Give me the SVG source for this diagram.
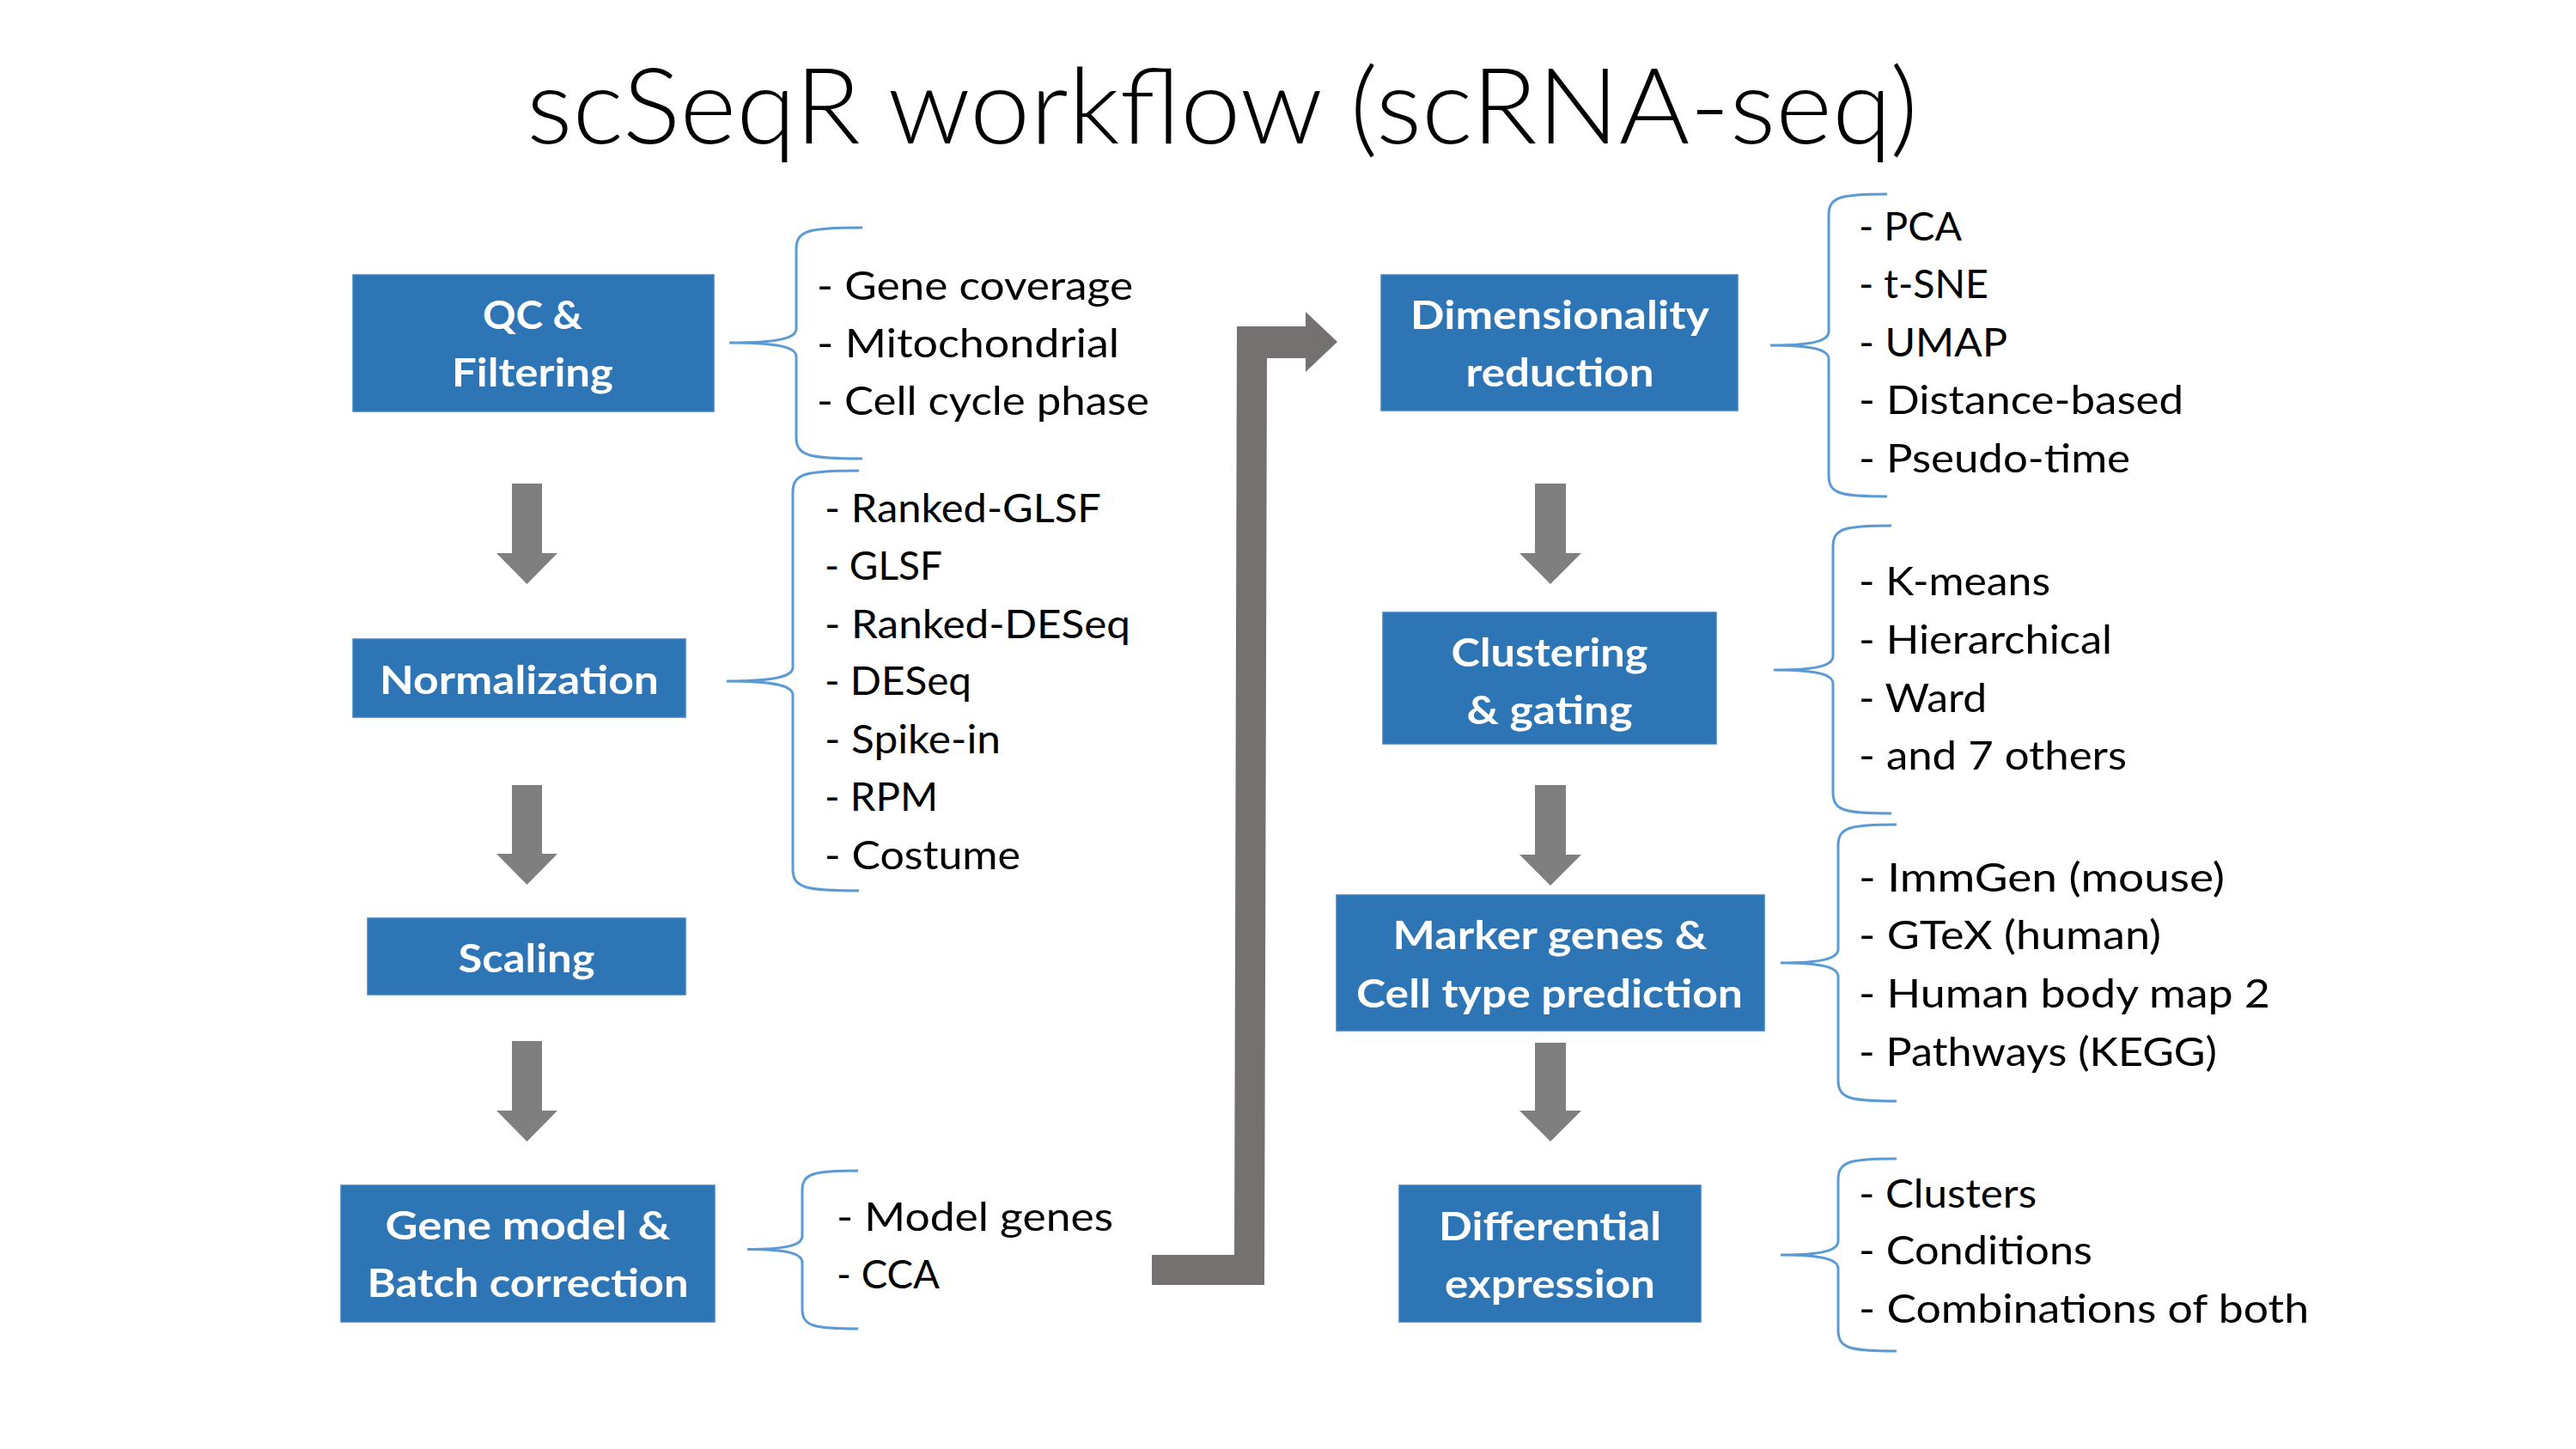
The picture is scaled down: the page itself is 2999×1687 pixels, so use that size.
<svg xmlns="http://www.w3.org/2000/svg" width="2999" height="1687" viewBox="0 0 2999 1687">
<style>
.box{fill:#2e75b6;stroke:#3f82c0;stroke-width:1.5}
.lbl{font-family:Lato,"Liberation Sans",sans-serif;font-weight:700;font-size:46px;fill:#fff;text-anchor:middle}
.item{font-family:Lato,"Liberation Sans",sans-serif;font-weight:400;font-size:46.5px;fill:#000}
.brace{fill:none;stroke:#5b9bd5;stroke-width:3}
.arr{fill:#7f7f7f}
.elbow{fill:#767171}
.title{font-family:Lato,"Liberation Sans",sans-serif;font-weight:300;font-size:123px;fill:#000}
</style>
<rect width="2999" height="1687" fill="#fff"/>
<text class="title" x="613" y="167" textLength="1620" lengthAdjust="spacingAndGlyphs">scSeqR workflow (scRNA-seq)</text>

<g id="connectors">
<polygon class="arr" points="596,563 631,563 631,644 649,644 613.5,680 578,644 596,644"/>
<polygon class="arr" points="596,914 631,914 631,994 649,994 613.5,1030 578,994 596,994"/>
<polygon class="arr" points="596,1212 631,1212 631,1293 649,1293 613.5,1329 578,1293 596,1293"/>
<polygon class="arr" points="1787,563 1823,563 1823,644 1841,644 1805,680 1769,644 1787,644"/>
<polygon class="arr" points="1787,914 1823,914 1823,995 1841,995 1805,1031 1769,995 1787,995"/>
<polygon class="arr" points="1787,1214 1823,1214 1823,1293 1841,1293 1805,1329 1769,1293 1787,1293"/>
<polygon class="elbow" points="1341,1461 1437,1461 1440,380 1520,380 1520,363 1557,398 1520,433 1520,417 1475,417 1472,1496 1341,1496"/>
</g>

<g id="node-qc">
<rect class="box" x="411" y="320" width="420" height="159"/>
<text class="lbl" x="620" y="383" textLength="116" lengthAdjust="spacingAndGlyphs">QC &amp;</text>
<text class="lbl" x="620" y="450" textLength="188" lengthAdjust="spacingAndGlyphs">Filtering</text>
</g>
<g id="node-normalization">
<rect class="box" x="411" y="744" width="387" height="91"/>
<text class="lbl" x="604.5" y="808" textLength="325" lengthAdjust="spacingAndGlyphs">Normalization</text>
</g>
<g id="node-scaling">
<rect class="box" x="428" y="1069" width="370" height="89"/>
<text class="lbl" x="613" y="1131.5" textLength="159" lengthAdjust="spacingAndGlyphs">Scaling</text>
</g>
<g id="node-genemodel">
<rect class="box" x="397" y="1380" width="435" height="159"/>
<text class="lbl" x="614.5" y="1443" textLength="332" lengthAdjust="spacingAndGlyphs">Gene model &amp;</text>
<text class="lbl" x="614.5" y="1510" textLength="374" lengthAdjust="spacingAndGlyphs">Batch correction</text>
</g>
<g id="node-dimred">
<rect class="box" x="1608" y="320" width="415" height="158"/>
<text class="lbl" x="1816" y="383" textLength="348" lengthAdjust="spacingAndGlyphs">Dimensionality</text>
<text class="lbl" x="1816" y="450" textLength="219" lengthAdjust="spacingAndGlyphs">reduction</text>
</g>
<g id="node-clustering">
<rect class="box" x="1610" y="713" width="388" height="153"/>
<text class="lbl" x="1804" y="776" textLength="229" lengthAdjust="spacingAndGlyphs">Clustering</text>
<text class="lbl" x="1804" y="843" textLength="193" lengthAdjust="spacingAndGlyphs">&amp; gating</text>
</g>
<g id="node-marker">
<rect class="box" x="1556" y="1042" width="498" height="158"/>
<text class="lbl" x="1804.5" y="1105" textLength="366" lengthAdjust="spacingAndGlyphs">Marker genes &amp;</text>
<text class="lbl" x="1804" y="1172.6" textLength="450" lengthAdjust="spacingAndGlyphs">Cell type prediction</text>
</g>
<g id="node-diffexp">
<rect class="box" x="1629" y="1380" width="351" height="159"/>
<text class="lbl" x="1804.5" y="1444" textLength="259" lengthAdjust="spacingAndGlyphs">Differential</text>
<text class="lbl" x="1804.5" y="1511" textLength="245" lengthAdjust="spacingAndGlyphs">expression</text>
</g>

<g id="list-qc">
<path class="brace" d="M1004,265 C942,265 927,268 927,290 L927,383 C927,394 905,399 849,399 C905,399 927,404 927,415 L927,509 C927,531 942,534 1004,534"/>
<text class="item" x="951" y="349" textLength="368" lengthAdjust="spacingAndGlyphs">- Gene coverage</text>
<text class="item" x="951" y="416" textLength="352" lengthAdjust="spacingAndGlyphs">- Mitochondrial</text>
<text class="item" x="951" y="483" textLength="387" lengthAdjust="spacingAndGlyphs">- Cell cycle phase</text>
</g>
<g id="list-normalization">
<path class="brace" d="M1000,548 C938,548 923,551 923,573 L923,777 C923,788 901,793 846,793 C901,793 923,798 923,809 L923,1012 C923,1034 938,1037 1000,1037"/>
<text class="item" x="960" y="608" textLength="322" lengthAdjust="spacingAndGlyphs">- Ranked-GLSF</text>
<text class="item" x="960" y="675" textLength="137" lengthAdjust="spacingAndGlyphs">- GLSF</text>
<text class="item" x="960" y="743" textLength="356" lengthAdjust="spacingAndGlyphs">- Ranked-DESeq</text>
<text class="item" x="960" y="809" textLength="171" lengthAdjust="spacingAndGlyphs">- DESeq</text>
<text class="item" x="960" y="877" textLength="205" lengthAdjust="spacingAndGlyphs">- Spike-in</text>
<text class="item" x="960" y="944" textLength="132" lengthAdjust="spacingAndGlyphs">- RPM</text>
<text class="item" x="960" y="1012" textLength="228" lengthAdjust="spacingAndGlyphs">- Costume</text>
</g>
<g id="list-genemodel">
<path class="brace" d="M999,1363 C947,1363 934,1366 934,1386 L934,1439 C934,1450 915,1454.5 870,1454.5 C915,1454.5 934,1459 934,1470 L934,1524 C934,1544 947,1547 999,1547"/>
<text class="item" x="974" y="1433" textLength="322" lengthAdjust="spacingAndGlyphs">- Model genes</text>
<text class="item" x="974" y="1500" textLength="120" lengthAdjust="spacingAndGlyphs">- CCA</text>
</g>
<g id="list-dimred">
<path class="brace" d="M2197,226 C2142,226 2129,229 2129,251 L2129,386 C2129,397 2110,402 2061,402 C2110,402 2129,407 2129,418 L2129,553 C2129,575 2142,578 2197,578"/>
<text class="item" x="2164" y="280" textLength="120" lengthAdjust="spacingAndGlyphs">- PCA</text>
<text class="item" x="2164" y="347" textLength="151" lengthAdjust="spacingAndGlyphs">- t-SNE</text>
<text class="item" x="2164" y="415" textLength="173" lengthAdjust="spacingAndGlyphs">- UMAP</text>
<text class="item" x="2164" y="482" textLength="378" lengthAdjust="spacingAndGlyphs">- Distance-based</text>
<text class="item" x="2164" y="550" textLength="316" lengthAdjust="spacingAndGlyphs">- Pseudo-time</text>
</g>
<g id="list-clustering">
<path class="brace" d="M2202,612 C2147,612 2134,615 2134,637 L2134,764 C2134,775 2115,780 2065,780 C2115,780 2134,785 2134,796 L2134,922 C2134,944 2147,947 2202,947"/>
<text class="item" x="2164" y="693" textLength="223" lengthAdjust="spacingAndGlyphs">- K-means</text>
<text class="item" x="2164" y="761" textLength="295" lengthAdjust="spacingAndGlyphs">- Hierarchical</text>
<text class="item" x="2164" y="829" textLength="149" lengthAdjust="spacingAndGlyphs">- Ward</text>
<text class="item" x="2164" y="896" textLength="312" lengthAdjust="spacingAndGlyphs">- and 7 others</text>
</g>
<g id="list-marker">
<path class="brace" d="M2208,960 C2153,960 2140,963 2140,985 L2140,1105 C2140,1116 2121,1121 2073,1121 C2121,1121 2140,1126 2140,1137 L2140,1257 C2140,1279 2153,1282 2208,1282"/>
<text class="item" x="2164" y="1038" textLength="426" lengthAdjust="spacingAndGlyphs">- ImmGen (mouse)</text>
<text class="item" x="2164" y="1105" textLength="352" lengthAdjust="spacingAndGlyphs">- GTeX (human)</text>
<text class="item" x="2164" y="1173" textLength="479" lengthAdjust="spacingAndGlyphs">- Human body map 2</text>
<text class="item" x="2164" y="1241" textLength="417" lengthAdjust="spacingAndGlyphs">- Pathways (KEGG)</text>
</g>
<g id="list-diffexp">
<path class="brace" d="M2208,1349 C2153,1349 2140,1352 2140,1374 L2140,1445 C2140,1456 2121,1461 2073,1461 C2121,1461 2140,1466 2140,1477 L2140,1548 C2140,1570 2153,1573 2208,1573"/>
<text class="item" x="2164" y="1406" textLength="207" lengthAdjust="spacingAndGlyphs">- Clusters</text>
<text class="item" x="2164" y="1472" textLength="272" lengthAdjust="spacingAndGlyphs">- Conditions</text>
<text class="item" x="2164" y="1540" textLength="524" lengthAdjust="spacingAndGlyphs">- Combinations of both</text>
</g>
</svg>
